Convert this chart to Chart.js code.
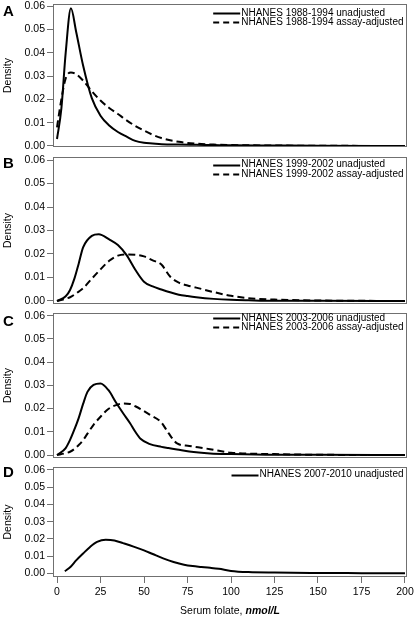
<!DOCTYPE html>
<html>
<head>
<meta charset="utf-8">
<script src="https://cdn.jsdelivr.net/npm/chart.js@4/dist/chart.umd.min.js"></script>
<style>
  html, body { margin: 0; padding: 0; overflow: hidden; }
  body { background: #fff; width: 415px; height: 617px; position: relative; font-family: "Liberation Sans", Arial, sans-serif; }
  canvas { position: absolute; left: 0; }
  .letter { position: absolute; left: 3px; font-weight: bold; font-size: 15px; line-height: 15px; }
  #xTitle { position: absolute; top: 604px; left: 0; width: 460px; text-align: center; font-size: 10.5px; line-height: 12px; }
</style>
</head>
<body>
<canvas id="chartA"></canvas>
<canvas id="chartB"></canvas>
<canvas id="chartC"></canvas>
<canvas id="chartD"></canvas>
<div class="letter" style="top:2.6px">A</div>
<div class="letter" style="top:155.3px">B</div>
<div class="letter" style="top:312.6px">C</div>
<div class="letter" style="top:463.6px">D</div>
<div id="xTitle">Serum folate, <b><i>nmol/L</i></b></div>
<script>
// Tick labels
const densityTicks = [0, 0.01, 0.02, 0.03, 0.04, 0.05, 0.06];
const folateTicks = [0, 25, 50, 75, 100, 125, 150, 175, 200];

// Panel A: NHANES 1988-1994
const folateA = [0, 2.5, 5, 8, 11, 15, 20, 25, 30, 35, 40, 45, 50, 55, 60, 70, 80, 90, 100, 125, 150, 200];
const unadjA = [0.003, 0.016, 0.040, 0.059, 0.049, 0.0345, 0.0205, 0.013, 0.0088, 0.006, 0.0040, 0.0022, 0.0014, 0.0011, 0.0008, 0.0006, 0.0005, 0.0004, 0.0003, 0.0002, 0.0001, 0];
const adjA = [0.008, 0.020, 0.029, 0.0315, 0.0308, 0.028, 0.0235, 0.0195, 0.0163, 0.0137, 0.011, 0.0086, 0.0066, 0.0048, 0.0034, 0.0018, 0.001, 0.0006, 0.0004, 0.0002, 0.0001, 0];

// Panel B: NHANES 1999-2002
const folateB = [0, 5, 7.5, 10, 12.5, 15, 20, 24, 30, 35, 40, 45, 50, 55, 60, 65, 70, 75, 80, 90, 100, 110, 125, 150, 200];
const unadjB = [0, 0.002, 0.0047, 0.0095, 0.016, 0.0228, 0.0277, 0.0284, 0.0262, 0.0238, 0.0195, 0.0133, 0.0082, 0.0062, 0.0049, 0.0037, 0.0027, 0.0021, 0.0016, 0.0009, 0.0005, 0.0003, 0.0001, 0.0001, 0];
const adjB = [0, 0.001, 0.0016, 0.0027, 0.004, 0.0054, 0.0095, 0.0127, 0.0171, 0.0193, 0.0198, 0.0197, 0.019, 0.0173, 0.0155, 0.0104, 0.0078, 0.0066, 0.0057, 0.0038, 0.0022, 0.0012, 0.0006, 0.0002, 0];

// Panel C: NHANES 2003-2006
const folateC = [0, 5, 7.5, 10, 12.5, 15, 17.5, 21, 25, 29.5, 34, 38, 42, 45, 48, 53, 60, 64, 69, 76, 88, 100, 125, 150, 200];
const unadjC = [0, 0.003, 0.0065, 0.011, 0.016, 0.022, 0.0272, 0.0302, 0.0308, 0.028, 0.0225, 0.018, 0.0137, 0.010, 0.007, 0.0048, 0.0035, 0.003, 0.0024, 0.0015, 0.0007, 0.0004, 0.0001, 0.0001, 0];
const adjC = [0, 0.0008, 0.0014, 0.0026, 0.0043, 0.0064, 0.0092, 0.013, 0.0165, 0.0198, 0.0215, 0.0222, 0.022, 0.021, 0.0198, 0.0175, 0.014, 0.0095, 0.005, 0.0039, 0.0025, 0.001, 0.0004, 0.0001, 0];

// Panel D: NHANES 2007-2010
const folateD = [4.5, 8, 11, 15, 19, 23, 28, 33, 38, 44, 50, 55, 61, 67, 73, 78, 83, 88, 93, 100, 110, 125, 150, 175, 200];
const unadjD = [0.0012, 0.004, 0.0075, 0.0115, 0.0153, 0.0182, 0.0195, 0.0191, 0.0175, 0.0155, 0.0133, 0.0112, 0.0087, 0.0066, 0.005, 0.0042, 0.0037, 0.0032, 0.0026, 0.0014, 0.0007, 0.0004, 0.0002, 0.0001, 0];

const FONT = '"Liberation Sans", Arial, sans-serif';
const GREY = '#707070';

function toPoints(xs, ys) {
    return xs.map((x, i) => ({ x: x, y: ys[i] }));
}

function solid(label, xs, ys) {
    return { label: label, data: toPoints(xs, ys), borderColor: '#000', borderWidth: 2,
             pointRadius: 0, fill: false, cubicInterpolationMode: 'monotone' };
}

function dashed(label, xs, ys) {
    const ds = solid(label, xs, ys);
    ds.borderDash = [7, 4];
    return ds;
}

// box around the plot area
const framePlugin = {
    id: 'frame',
    afterDraw(chart) {
        const a = chart.chartArea;
        const ctx = chart.ctx;
        ctx.save();
        ctx.strokeStyle = GREY;
        ctx.lineWidth = 1;
        ctx.strokeRect(a.left + 0.5, a.top + 0.5, a.right - a.left - 1, a.bottom - a.top - 1);
        ctx.restore();
    }
};

// legend drawn inside the top right corner, text left aligned in a block
const insideLegend = {
    id: 'insideLegend',
    afterDraw(chart, args, opts) {
        const a = chart.chartArea;
        const ctx = chart.ctx;
        ctx.save();
        ctx.font = '10px ' + FONT;
        ctx.textAlign = 'left';
        ctx.textBaseline = 'middle';
        ctx.fillStyle = '#000';
        const maxW = Math.max(...chart.data.datasets.map(ds => ctx.measureText(ds.label).width));
        const tx = a.right - 3.5 - maxW;
        chart.data.datasets.forEach((ds, i) => {
            const y = a.top + opts.top + i * 9.3;
            ctx.fillText(ds.label, tx, y);
            ctx.beginPath();
            ctx.setLineDash(ds.borderDash ? [6, 4] : []);
            ctx.lineWidth = 2;
            ctx.strokeStyle = '#000';
            ctx.moveTo(tx - 28, Math.round(y) + 0.5);
            ctx.lineTo(tx - 1, Math.round(y) + 0.5);
            ctx.stroke();
            ctx.setLineDash([]);
        });
        ctx.restore();
    }
};

function makePanel(id, datasets, p) {
    const canvas = document.getElementById(id);
    const boxH = p.bottom - p.top;
    const axisH = p.showX ? 27 : 0;
    const padBottom = p.showX ? 2 : 10;
    canvas.width = 430;
    canvas.height = boxH + 10 + axisH + padBottom;
    canvas.style.top = (p.top - 10) + 'px';
    return new Chart(canvas, {
        type: 'line',
        data: { datasets: datasets },
        plugins: [framePlugin, insideLegend],
        options: {
            responsive: false,
            animation: false,
            layout: { padding: { top: 10, bottom: padBottom, left: 0, right: 23 } },
            plugins: {
                legend: { display: false },
                tooltip: { enabled: false },
                insideLegend: { top: p.legendTop }
            },
            scales: {
                x: {
                    type: 'linear',
                    min: -2.3,
                    max: 201.15,
                    display: p.showX,
                    afterBuildTicks: ax => { ax.ticks = folateTicks.map(v => ({ value: v })); },
                    afterFit: ax => { ax.height = axisH; },
                    grid: { drawOnChartArea: false, drawTicks: true, tickLength: 6, color: GREY },
                    border: { display: false },
                    ticks: { padding: 3, color: '#000', maxRotation: 0, autoSkip: false,
                             font: { size: 10.5, family: FONT } }
                },
                y: {
                    min: p.min,
                    max: p.max,
                    afterBuildTicks: ax => { ax.ticks = densityTicks.map(v => ({ value: v })); },
                    afterFit: ax => { ax.width = 53; },
                    grid: { drawOnChartArea: false, drawTicks: true, tickLength: 6, color: GREY },
                    border: { display: false },
                    ticks: { padding: 2, color: '#000', font: { size: 10.5, family: FONT },
                             callback: v => v.toFixed(2) },
                    title: { display: true, text: 'Density', color: '#000',
                             font: { size: 10.5, family: FONT }, padding: { top: 2, bottom: 0 } }
                }
            }
        }
    });
}

makePanel('chartA', [
    solid('NHANES 1988-1994 unadjusted', folateA, unadjA),
    dashed('NHANES 1988-1994 assay-adjusted', folateA, adjA)
], { top: 4, bottom: 147, min: -0.00043, max: 0.06086, legendTop: 9, showX: false });

makePanel('chartB', [
    solid('NHANES 1999-2002 unadjusted', folateB, unadjB),
    dashed('NHANES 1999-2002 assay-adjusted', folateB, adjB)
], { top: 157, bottom: 304, min: -0.00128, max: 0.06128, legendTop: 7.5, showX: false });

makePanel('chartC', [
    solid('NHANES 2003-2006 unadjusted', folateC, unadjC),
    dashed('NHANES 2003-2006 assay-adjusted', folateC, adjC)
], { top: 313, bottom: 458, min: -0.00129, max: 0.06116, legendTop: 5, showX: false });

makePanel('chartD', [
    solid('NHANES 2007-2010 unadjusted', folateD, unadjD)
], { top: 467, bottom: 577, min: -0.00215, max: 0.06174, legendTop: 7.5, showX: true });

console.log('panels drawn');
</script>
</body>
</html>
